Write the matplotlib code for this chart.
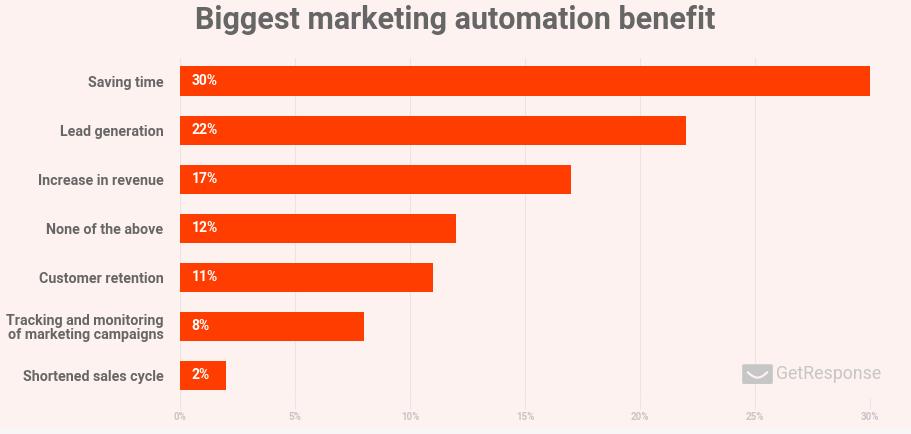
import matplotlib.pyplot as plt
import matplotlib.patches as mpatches
import numpy as np

categories = ["Saving time", "Lead generation", "Increase in revenue", "None of the above",
              "Customer retention", "Tracking and monitoring\nof marketing campaigns",
              "Shortened sales cycle"]
values = [30, 22, 17, 12, 11, 8, 2]
xticks = [0, 5, 10, 15, 20, 25, 30]
xtick_labels = ["0%", "5%", "10%", "15%", "20%", "25%", "30%"]

bg = "#fdf2ef"
bar_color = "#ff3d00"
text_gray = "#666666"

plt.rcParams['font.family'] = ['Roboto', 'DejaVu Sans']

fig = plt.figure(figsize=(9.11, 4.34), dpi=100, facecolor=bg)
ax = fig.add_axes([0.1976, 0.083, 0.7574, 0.783])
ax.set_facecolor(bg)

y = np.arange(len(categories))
ax.barh(y, values, height=0.6, color=bar_color, zorder=3)

for yi, v in zip(y, values):
    ax.text(0.5, yi, f"{v}%", color="white", fontsize=10, fontweight="bold",
            va="center", ha="left", zorder=4)

ax.set_xlim(0, 30)
ax.set_ylim(6.46, -0.47)
ax.set_yticks(y)
ax.set_yticklabels(categories, fontsize=10.3, fontweight="bold", color=text_gray,
                   linespacing=1.05, ha="right")
ax.tick_params(axis="y", length=0, pad=12)
ax.set_xticks(xticks)
ax.set_xticklabels(xtick_labels, fontsize=7, fontweight="bold", color="#c9c4c4")
ax.tick_params(axis="x", length=8, color="#ece4e2", pad=2)
ax.grid(axis="x", color="#ece4e2", linewidth=0.8, zorder=0)
for s in ax.spines.values():
    s.set_visible(False)

fig.text(0.5, 0.955, "Biggest marketing automation benefit", ha="center", va="center",
         fontsize=22, fontweight="bold", color=text_gray)

# bottom strip
fig.patches.append(mpatches.Rectangle((0, 0), 1, 0.012, transform=fig.transFigure,
                                      color="#f8f6f6", zorder=0))

# GetResponse logo
fig.patches.append(mpatches.FancyBboxPatch((0.8165, 0.118), 0.030, 0.040,
                                           boxstyle="round,pad=0.001",
                                           transform=fig.transFigure, color="#c6c6c6"))
t = np.linspace(0.15, 0.85, 30)
fig.lines.append(plt.Line2D(0.8165 + 0.030 * t, 0.152 - 0.022 * np.sin(np.pi * t),
                            transform=fig.transFigure, color=bg, linewidth=1.6))
fig.text(0.852, 0.138, "GetResponse", ha="left", va="center", fontsize=12.8,
         color="#c6c6c6")

fig.savefig("out.png", dpi=100, facecolor=bg)
